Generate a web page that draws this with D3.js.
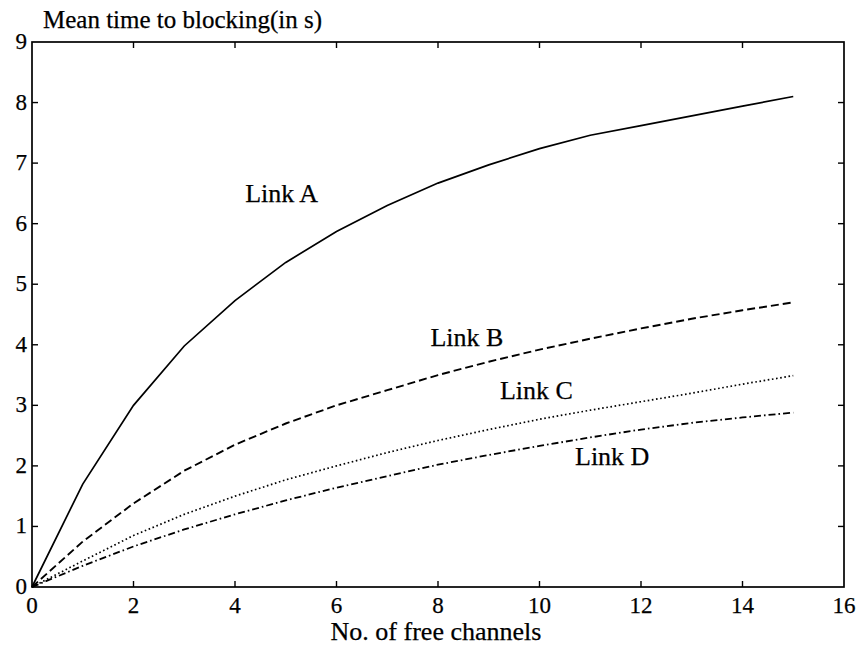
<!DOCTYPE html>
<html>
<head>
<meta charset="utf-8">
<script src="https://cdn.jsdelivr.net/npm/d3@7"></script>
<style>
  body { margin: 0; background: #fff; }
  text { font-family: "Liberation Serif", "Times New Roman", serif; fill: #000; stroke: #000; stroke-width: 0.25; }
</style>
</head>
<body>
<div id="chart"></div>
<script>
// free channels on the x axis
const channels = [0, 1, 2, 3, 4, 5, 6, 7, 8, 9, 10, 11, 12, 13, 14, 15];
// mean time to blocking per link
const linkA = [0, 1.7, 3.0, 3.98, 4.73, 5.36, 5.87, 6.3, 6.67, 6.97, 7.24, 7.46, 7.62, 7.78, 7.94, 8.1];
const linkB = [0, 0.75, 1.38, 1.92, 2.35, 2.7, 3.0, 3.25, 3.5, 3.72, 3.92, 4.1, 4.27, 4.43, 4.57, 4.7];
const linkC = [0, 0.43, 0.85, 1.2, 1.5, 1.77, 2.0, 2.22, 2.42, 2.6, 2.77, 2.92, 3.06, 3.2, 3.35, 3.49];
const linkD = [0, 0.35, 0.67, 0.95, 1.2, 1.43, 1.64, 1.83, 2.02, 2.18, 2.33, 2.47, 2.6, 2.71, 2.8, 2.88];
const linkNames = ["Link A", "Link B", "Link C", "Link D"];
const xTicks = [0, 2, 4, 6, 8, 10, 12, 14, 16];
const yTicks = [0, 1, 2, 3, 4, 5, 6, 7, 8, 9];

const width = 858, height = 647;
const margin = { left: 32, right: 14, top: 42, bottom: 60 };

const svg = d3.select("#chart").append("svg")
  .attr("width", width).attr("height", height);

const x = d3.scaleLinear().domain([0, 16]).range([margin.left, width - margin.right]);
const y = d3.scaleLinear().domain([0, 9]).range([height - margin.bottom, margin.top]);

// line styles like the old matlab plot: solid, dashed, dotted, dash-dot
const series = [
  { name: linkNames[0], values: linkA, dash: null, w: 1.7, lx: 4.2, ly: 6.36 },
  { name: linkNames[1], values: linkB, dash: "8,4", w: 1.9, lx: 7.85, ly: 3.98 },
  { name: linkNames[2], values: linkC, dash: "1.6,2.6", w: 1.7, lx: 9.22, ly: 3.1 },
  { name: linkNames[3], values: linkD, dash: "7,3,1.6,3", w: 1.8, lx: 10.7, ly: 2.01 }
];

const line = d3.line()
  .x((d, i) => x(channels[i]))
  .y(d => y(d));

// frame
svg.append("rect")
  .attr("x", x(0)).attr("y", y(9))
  .attr("width", x(16) - x(0)).attr("height", y(0) - y(9))
  .attr("fill", "none").attr("stroke", "#000").attr("stroke-width", 1.7);

// inward ticks on all four sides
const tl = 6;
const g = svg.append("g").attr("stroke", "#000").attr("stroke-width", 1.4);
xTicks.slice(1, -1).forEach(t => {
  g.append("line").attr("x1", x(t)).attr("x2", x(t)).attr("y1", y(0)).attr("y2", y(0) - tl);
  g.append("line").attr("x1", x(t)).attr("x2", x(t)).attr("y1", y(9)).attr("y2", y(9) + tl);
});
yTicks.slice(1, -1).forEach(t => {
  g.append("line").attr("x1", x(0)).attr("x2", x(0) + tl).attr("y1", y(t)).attr("y2", y(t));
  g.append("line").attr("x1", x(16)).attr("x2", x(16) - tl).attr("y1", y(t)).attr("y2", y(t));
});

// tick labels
svg.append("g").selectAll("text")
  .data(xTicks)
  .enter().append("text")
  .attr("x", d => x(d))
  .attr("y", y(0) + 26)
  .attr("text-anchor", "middle")
  .style("font-size", "23px")
  .text(d => d);

svg.append("g").selectAll("text")
  .data(yTicks)
  .enter().append("text")
  .attr("x", x(0) - 5)
  .attr("y", d => y(d) + 7)
  .attr("text-anchor", "end")
  .style("font-size", "23px")
  .text(d => d);

// curves
svg.append("g").selectAll("path")
  .data(series)
  .enter().append("path")
  .attr("d", d => line(d.values))
  .attr("fill", "none")
  .attr("stroke", "#000")
  .attr("stroke-width", d => d.w)
  .attr("stroke-dasharray", d => d.dash);

// link labels sit next to their curves
svg.append("g").selectAll("text")
  .data(series)
  .enter().append("text")
  .attr("x", d => x(d.lx))
  .attr("y", d => y(d.ly))
  .style("font-size", "26px")
  .text(d => d.name);

// axis titles
svg.append("text")
  .attr("x", 43).attr("y", 28)
  .style("font-size", "25px")
  .text("Mean time to blocking(in s)");

svg.append("text")
  .attr("x", x(8) - 2).attr("y", 640)
  .attr("text-anchor", "middle")
  .style("font-size", "26px")
  .text("No. of free channels");
</script>
</body>
</html>
